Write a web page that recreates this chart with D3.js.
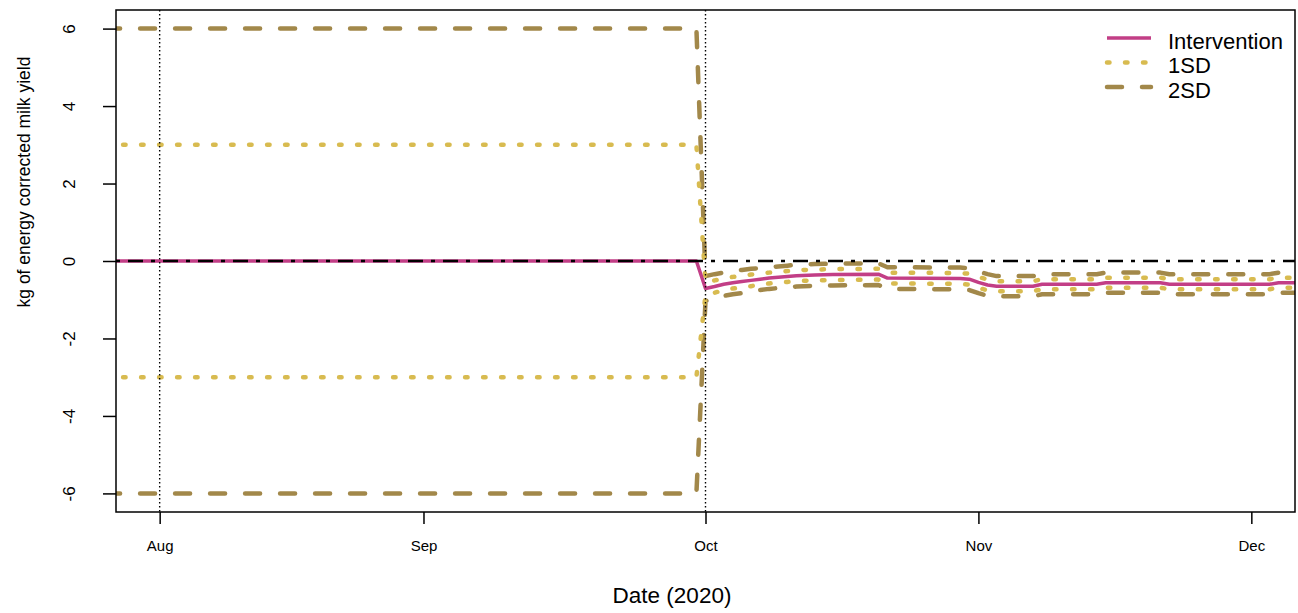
<!DOCTYPE html>
<html>
<head>
<meta charset="utf-8">
<script src="https://cdn.jsdelivr.net/npm/d3@7"></script>
<style>
  body { margin: 0; background: #fff; }
  svg { display: block; }
  text { font-family: "Liberation Sans", Arial, Helvetica, sans-serif; fill: #000; }
</style>
</head>
<body>
<svg id="chart" width="1298" height="613"></svg>
<script>
// Record index of each observation (0 = 1 Aug 2020); breakpoints of the series
const dayIndex = [-6, 59, 60, 61, 62, 63, 64, 65, 66, 67, 68, 69, 70, 72, 74, 79, 80, 88, 89, 90, 91, 92, 96, 97, 103, 104, 110, 111, 122, 123, 127];
// Difference in kg ECM for the intervention group
const intervention = [0, 0, -0.71, -0.66, -0.60, -0.56, -0.53, -0.50, -0.47, -0.44, -0.42, -0.40, -0.38, -0.36, -0.35, -0.34, -0.44, -0.45, -0.47, -0.55, -0.62, -0.65, -0.65, -0.60, -0.60, -0.56, -0.56, -0.60, -0.60, -0.56, -0.56];
// Standard deviation at each observation
const sdValues = [3, 3, 0.16, 0.16, 0.15, 0.15, 0.15, 0.15, 0.14, 0.14, 0.14, 0.14, 0.14, 0.14, 0.14, 0.14, 0.14, 0.14, 0.14, 0.14, 0.14, 0.13, 0.13, 0.13, 0.13, 0.13, 0.13, 0.13, 0.13, 0.13, 0.13];

const monthTicks = [0, 29, 60, 90, 120];
const monthLabels = ["Aug", "Sep", "Oct", "Nov", "Dec"];
const yTicks = [-6, -4, -2, 0, 2, 4, 6];
const xLimits = [0, 120];
const yLimits = [-6, 6];
const markerDays = [0, 60];
const legendLabels = ["Intervention", "1SD", "2SD"];

const svg = d3.select("#chart");
const margin = { left: 116, right: 3, top: 10, bottom: 101 };
const W = 1298, H = 613;

// 4% padding on both axes, like base R graphics
const pad = (lim) => { const d = (lim[1] - lim[0]) * 0.04; return [lim[0] - d, lim[1] + d]; };
const x = d3.scaleLinear().domain(pad(xLimits)).range([margin.left, W - margin.right]);
const y = d3.scaleLinear().domain(pad(yLimits)).range([H - margin.bottom, margin.top]);

const col = { intervention: "#c23e86", sd1: "#d8bb50", sd2: "#a2884a" };

svg.append("defs").append("clipPath").attr("id", "plotClip")
  .append("rect")
  .attr("x", x.range()[0]).attr("y", y.range()[1])
  .attr("width", x.range()[1] - x.range()[0])
  .attr("height", y.range()[0] - y.range()[1]);

const plot = svg.append("g").attr("clip-path", "url(#plotClip)");

const rows = dayIndex.map((d, i) => ({ d, m: intervention[i], s: sdValues[i] }));
const lineFor = (k) => d3.line().x(r => x(r.d)).y(r => y(r.m + k * r.s));

// 2SD band limits
[-2, 2].forEach(k => plot.append("path").datum(rows)
  .attr("d", lineFor(k)).attr("fill", "none")
  .attr("stroke", col.sd2).attr("stroke-width", 4.5)
  .attr("stroke-linecap", "round").attr("stroke-linejoin", "round")
  .attr("stroke-dasharray", "15,20"));

// 1SD band limits
[-1, 1].forEach(k => plot.append("path").datum(rows)
  .attr("d", lineFor(k)).attr("fill", "none")
  .attr("stroke", col.sd1).attr("stroke-width", 4.5)
  .attr("stroke-linecap", "round").attr("stroke-linejoin", "round")
  .attr("stroke-dasharray", "2.5,15.5"));

// intervention line
plot.append("path").datum(rows)
  .attr("d", lineFor(0)).attr("fill", "none")
  .attr("stroke", col.intervention).attr("stroke-width", 3.5)
  .attr("stroke-linejoin", "round");

// zero reference (dot-dash)
plot.append("line")
  .attr("x1", x.range()[0]).attr("x2", x.range()[1])
  .attr("y1", y(0)).attr("y2", y(0))
  .attr("stroke", "#000").attr("stroke-width", 2.6)
  .attr("stroke-dasharray", "4,8,15,8");

// vertical markers
plot.selectAll(".marker").data(markerDays).enter().append("line")
  .attr("x1", d => x(d)).attr("x2", d => x(d))
  .attr("y1", y.range()[1]).attr("y2", y.range()[0])
  .attr("stroke", "#000").attr("stroke-width", 1.4)
  .attr("stroke-dasharray", "1.5,2.5");

// plot frame
svg.append("rect")
  .attr("x", x.range()[0]).attr("y", y.range()[1])
  .attr("width", x.range()[1] - x.range()[0])
  .attr("height", y.range()[0] - y.range()[1])
  .attr("fill", "none").attr("stroke", "#000").attr("stroke-width", 1.5);

// x axis
const xAxis = d3.axisBottom(x).tickValues(monthTicks)
  .tickFormat((d, i) => monthLabels[i]).tickSizeOuter(0).tickSizeInner(12).tickPadding(16);
const gx = svg.append("g").attr("transform", `translate(0,${y.range()[0]})`).call(xAxis);
gx.select(".domain").remove();
gx.selectAll(".tick line").attr("stroke", "#000").attr("stroke-width", 1.5);
gx.selectAll(".tick text").attr("font-size", 15).attr("fill", "#000");

// y axis (labels parallel to the axis, plain hyphen for negatives)
const yAxis = d3.axisLeft(y).tickValues(yTicks).tickFormat(d => String(d)).tickSizeOuter(0).tickSizeInner(13);
const gy = svg.append("g").attr("transform", `translate(${x.range()[0]},0)`).call(yAxis);
gy.select(".domain").remove();
gy.selectAll(".tick line").attr("stroke", "#000").attr("stroke-width", 1.5);
gy.selectAll(".tick text")
  .attr("font-size", 17).attr("fill", "#000")
  .attr("x", 0).attr("dy", null).attr("text-anchor", "middle")
  .attr("transform", "translate(-47,0) rotate(-90)")
  .attr("dominant-baseline", "central");

// axis titles
svg.append("text")
  .attr("transform", `translate(24,182) rotate(-90)`)
  .attr("text-anchor", "middle").attr("dominant-baseline", "central").attr("font-size", 17.5)
  .text("kg of energy corrected milk yield");
svg.append("text")
  .attr("x", 672).attr("y", 603)
  .attr("text-anchor", "middle").attr("font-size", 22.5)
  .text("Date (2020)");

// legend
const legend = svg.append("g").attr("transform", "translate(1105,41)");
const legendStyles = [
  { stroke: col.intervention, w: 3.5, dash: null, cap: "butt" },
  { stroke: col.sd1, w: 4.5, dash: "2.5,15.5", cap: "round" },
  { stroke: col.sd2, w: 4.5, dash: "15,20", cap: "round" }
];
legendLabels.forEach((lab, i) => {
  const g = legend.append("g").attr("transform", `translate(0,${i * 24.5})`);
  const s = legendStyles[i];
  g.append("line").attr("x1", 2).attr("x2", 46).attr("y1", -3).attr("y2", -3)
    .attr("stroke", s.stroke).attr("stroke-width", s.w)
    .attr("stroke-linecap", s.cap).attr("stroke-dasharray", s.dash);
  g.append("text").attr("x", 63).attr("y", 0).attr("dominant-baseline", "central")
    .attr("font-size", 22).text(lab);
});
</script>
</body>
</html>
